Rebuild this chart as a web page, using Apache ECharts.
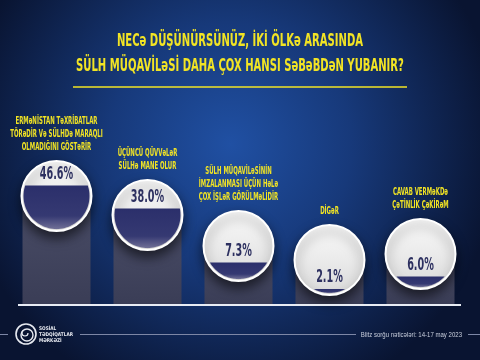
<!DOCTYPE html>
<html>
<head>
<meta charset="utf-8">
<script src="https://cdn.jsdelivr.net/npm/echarts@6/dist/echarts.min.js"></script>
<style>html,body{margin:0;padding:0;background:#0b1635;}#c{width:480px;height:360px;}</style>
</head>
<body>
<div id="c"></div>
<script>
// ---- data ----
const categories = [
  'ERMəNİSTAN TəXRİBATLAR\nTÖRəDİR Və SÜLHDə MARAQLI\nOLMADIĞINI GÖSTəRİR',
  'ÜÇÜNCÜ QÜVVəLəR\nSÜLHə MANE OLUR',
  'SÜLH MÜQAVİLəSİNİN\nİMZALANMASI ÜÇÜN HəLə\nÇOX İŞLəR GÖRÜLMəLİDİR',
  'DİGəR',
  'CAVAB VERMəKDə\nÇəTİNLİK ÇəKİRəM'
];
const values = [46.6, 38.0, 7.3, 2.1, 6.0];           // percent shown in each circle
const columnLevel = [54.5, 45, 29.5, 22.5, 25.5];     // height of grey column (circle centre), % of plot
const fillLevel = [0.66, 0.60, 0.25, 0.06, 0.16];     // share of circle filled with navy
const titleLines = ['NECə DÜŞÜNÜRSÜNÜZ, İKİ ÖLKə ARASINDA', 'SÜLH MÜQAVİLəSİ DAHA ÇOX HANSI SəBəBDəN YUBANIR?'];
const sourceText = 'Blitz sorğu nəticələri: 14-17 may 2023';
const orgLines = 'SOSİAL\nTƏDQİQATLAR\nMƏRKƏZİ';

const chart = echarts.init(document.getElementById('c'), null, {renderer: 'canvas'});
const YELLOW = '#f2e424';
const CFONT = '"DejaVu Sans Condensed","DejaVu Sans",sans-serif';
const R = 35;

const customData = values.map((v, i) => [i, columnLevel[i], fillLevel[i], v]);

function renderItem(params, api) {
  const i = params.dataIndex;
  const c = api.coord([api.value(0), api.value(1)]);
  const cx = c[0], cy = c[1];
  const f = api.value(2);
  const rIn = R - 2;
  const chordY = cy + rIn - 2 * rIn * f;
  const a0 = Math.asin(Math.max(-1, Math.min(1, (chordY - cy) / rIn)));
  const pts = [];
  const N = 60;
  for (let k = 0; k <= N; k++) {
    const a = a0 + (Math.PI - 2 * a0) * k / N;
    pts.push([cx + rIn * Math.cos(a), cy + rIn * Math.sin(a)]);
  }
  return {
    type: 'group',
    children: [
      {type: 'circle', shape: {cx: cx, cy: cy, r: R},
        style: {fill: new echarts.graphic.LinearGradient(0, 0, 0, 1, [
          {offset: 0, color: '#fbfbfb'}, {offset: 1, color: '#dadada'}]),
          stroke: '#ffffff', lineWidth: 2,
          shadowBlur: 12, shadowColor: 'rgba(0,0,0,0.6)', shadowOffsetY: 6}},
      {type: 'polygon', shape: {points: pts},
        style: {fill: new echarts.graphic.LinearGradient(0, 0, 0, 1, [
          {offset: 0, color: '#2b2f6b'}, {offset: 0.7, color: '#353972'}, {offset: 1, color: '#706f96'}])}},
      {type: 'text', x: cx, y: chordY - 11, scaleX: 0.63,
        style: {text: values[i].toFixed(1) + '%', font: 'bold 17px ' + CFONT,
          fill: '#2d3060', align: 'center', verticalAlign: 'middle'}},
      {type: 'text', x: cx, y: cy - R - 7, scaleX: 0.6,
        style: {text: categories[i], font: 'bold 10px ' + CFONT, lineHeight: 13,
          fill: YELLOW, align: 'center', verticalAlign: 'bottom'}}
    ]
  };
}

const option = {
  animation: false,
  backgroundColor: 'transparent',
  grid: {left: 11, right: 14, top: 105, bottom: 55},
  xAxis: {type: 'category', data: categories, axisLine: {show: false}, axisTick: {show: false}, axisLabel: {show: false}},
  yAxis: {type: 'value', min: 0, max: 100, show: false, splitLine: {show: false}},
  graphic: [
    {type: 'rect', z: -10, shape: {x: 0, y: 0, width: 480, height: 360},
      style: {fill: new echarts.graphic.RadialGradient(0.48, 0.4, 0.75, [
        {offset: 0, color: '#2050a3'}, {offset: 0.45, color: '#17397a'}, {offset: 1, color: '#091431'}])}},
    {type: 'text', x: 240, y: 41, scaleX: 0.62, style: {text: titleLines[0], font: 'bold 18px ' + CFONT, fill: YELLOW, align: 'center', verticalAlign: 'middle'}},
    {type: 'text', x: 240, y: 66, scaleX: 0.62, style: {text: titleLines[1], font: 'bold 18px ' + CFONT, fill: YELLOW, align: 'center', verticalAlign: 'middle'}},
    {type: 'line', shape: {x1: 73, y1: 87, x2: 407, y2: 87}, style: {stroke: YELLOW, lineWidth: 1.5}},
    {type: 'line', z: 10, shape: {x1: 18, y1: 305, x2: 461, y2: 305}, style: {stroke: '#e8ecf4', lineWidth: 2}},
    {type: 'line', shape: {x1: 0, y1: 334.5, x2: 8, y2: 334.5}, style: {stroke: '#7d87a6', lineWidth: 1}},
    {type: 'line', shape: {x1: 80, y1: 334.5, x2: 356, y2: 334.5}, style: {stroke: '#7d87a6', lineWidth: 1}},
    {type: 'line', shape: {x1: 468, y1: 334.5, x2: 480, y2: 334.5}, style: {stroke: '#7d87a6', lineWidth: 1}},
    {type: 'circle', shape: {cx: 26, cy: 334, r: 10}, style: {fill: 'none', stroke: '#e6e9f0', lineWidth: 1.6}},
    {type: 'circle', shape: {cx: 27, cy: 335, r: 6}, style: {fill: 'none', stroke: '#e6e9f0', lineWidth: 1.4}},
    {type: 'arc', shape: {cx: 25, cy: 333, r: 3, startAngle: 0, endAngle: 4}, style: {fill: 'none', stroke: '#e6e9f0', lineWidth: 1.2}},
    {type: 'text', x: 39, y: 335, scaleX: 0.85, style: {text: orgLines, font: 'bold 5px "DejaVu Sans",sans-serif', lineHeight: 6, fill: '#e6e9f0', align: 'left', verticalAlign: 'middle'}},
    {type: 'text', x: 462, y: 335, scaleX: 0.93, style: {text: sourceText, font: '6.5px "Liberation Sans",Arial,sans-serif', fill: '#c9cfdd', align: 'right', verticalAlign: 'middle'}}
  ],
  series: [
    {type: 'bar', data: columnLevel, barWidth: 68, z: 1,
      itemStyle: {color: new echarts.graphic.LinearGradient(0, 0, 0, 1, [
        {offset: 0, color: '#4a4d67'}, {offset: 1, color: '#3a3d56'}])}},
    {type: 'custom', data: customData, renderItem: renderItem, z: 5, clip: false}
  ]
};
chart.setOption(option);
</script>
</body>
</html>
